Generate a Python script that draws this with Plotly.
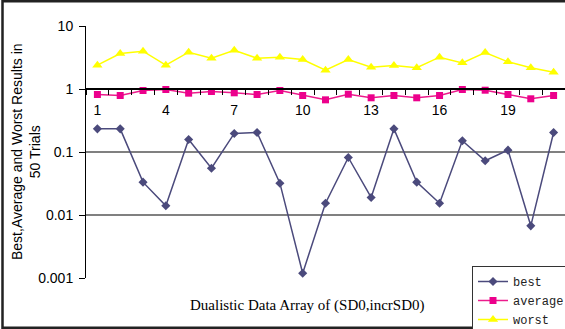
import plotly.graph_objects as go

trials = list(range(1, 22))
best = [0.233, 0.233, 0.0332, 0.0140, 0.158, 0.0553, 0.197, 0.204, 0.032, 0.00119,
        0.0154, 0.0818, 0.019, 0.233, 0.0332, 0.0154, 0.151, 0.0725, 0.107, 0.00673, 0.204]
average = [0.818, 0.789, 0.946, 0.982, 0.859, 0.913, 0.87, 0.818, 0.946, 0.789,
           0.673, 0.827, 0.725, 0.789, 0.725, 0.789, 0.982, 0.957, 0.818, 0.699, 0.789]
worst = [2.39, 3.66, 3.98, 2.39, 3.84, 3.08, 4.13, 3.08, 3.2, 2.94,
         1.99, 2.94, 2.22, 2.36, 2.17, 3.2, 2.6, 3.8, 2.7, 2.17, 1.85]
x_label_vals = [1, 4, 7, 10, 13, 16, 19]
x_label_text = ["1", "4", "7", "10", "13", "16", "19"]
y_tick_vals = [0.001, 0.01, 0.1, 1, 10]
y_tick_text = ["0.001", "0.01", "0.1", "1", "10"]
x_title = "Dualistic Data Array of (SD0,incrSD0)"
y_title = "Best,Average and Worst Results in<br>50 Trials"

W, H = 565, 329
L, R, T, B = 86, 0, 26, 51
pw, ph = W - L - R, H - T - B


def px(x):
    return (x - L) / pw


def py(y):
    return (H - B - y) / ph


fig = go.Figure()
fig.add_trace(go.Scatter(x=trials, y=best, name="best", mode="lines+markers",
                         line=dict(color="#4b4a7c", width=1.5),
                         marker=dict(symbol="diamond", size=7, color="#4b4a7c")))
fig.add_trace(go.Scatter(x=trials, y=average, name="average", mode="lines+markers",
                         line=dict(color="#ec1c8c", width=1.5),
                         marker=dict(symbol="square", size=7, color="#ec008c")))
fig.add_trace(go.Scatter(x=trials, y=worst, name="worst", mode="lines+markers",
                         line=dict(color="#ffff00", width=1.5),
                         marker=dict(symbol="triangle-up", size=9, color="#ffff00")))

fig.update_layout(
    width=W, height=H,
    margin=dict(l=L, r=R, t=T, b=B, pad=0, autoexpand=False),
    paper_bgcolor="white", plot_bgcolor="white",
    font=dict(family="Liberation Sans, Arial", size=14, color="black"),
    xaxis=dict(
        range=[0.5, 21.5], anchor="free", position=0.75,
        tickmode="array", tickvals=x_label_vals, ticktext=x_label_text,
        ticks="outside", ticklen=8, tickcolor="rgba(0,0,0,0)",
        showline=True, linecolor="black", linewidth=1.5,
        showgrid=False, zeroline=False,
        tickfont=dict(family="Liberation Sans, Arial", size=14, color="black"),
        minor=dict(tickmode="array", tickvals=[i + 0.5 for i in range(0, 22)],
                   ticks="outside", ticklen=5, tickcolor="black", tickwidth=1,
                   showgrid=False),
    ),
    yaxis=dict(
        type="log", range=[-3, 1],
        tickmode="array", tickvals=y_tick_vals, ticktext=y_tick_text,
        ticks="outside", ticklen=6, tickcolor="black", ticklabelstandoff=3,
        showline=True, linecolor="black", linewidth=1,
        showgrid=True, gridcolor="#808080", gridwidth=1.5,
        tickfont=dict(family="Liberation Sans, Arial", size=14, color="black"),
    ),
    legend=dict(
        x=px(472), y=py(266), xanchor="left", yanchor="top",
        bgcolor="white", bordercolor="#333333", borderwidth=1,
        font=dict(family="Liberation Mono, Courier New", size=12, color="#222222"),
        itemwidth=30, tracegroupgap=0,
    ),
    annotations=[
        dict(text=y_title, xref="paper", yref="paper", x=px(26), y=py(152),
             xanchor="center", yanchor="middle",
             textangle=-90, showarrow=False,
             font=dict(family="Liberation Sans, Arial", size=14, color="black")),
        dict(text=x_title, xref="paper", yref="paper", x=px(307), y=py(305),
             xanchor="center", yanchor="middle", showarrow=False,
             font=dict(family="Liberation Serif, Times New Roman", size=15, color="black")),
    ],
    shapes=[
        dict(type="rect", xref="paper", yref="paper",
             x0=px(2.5), x1=1.1, y0=py(327.8), y1=py(1.2),
             line=dict(color="#222222", width=2.5), fillcolor="rgba(0,0,0,0)",
             layer="above"),
    ],
)

fig.write_html("out.html", config={"displayModeBar": False},
               post_script="document.body.style.margin='0';document.body.style.padding='0';")
